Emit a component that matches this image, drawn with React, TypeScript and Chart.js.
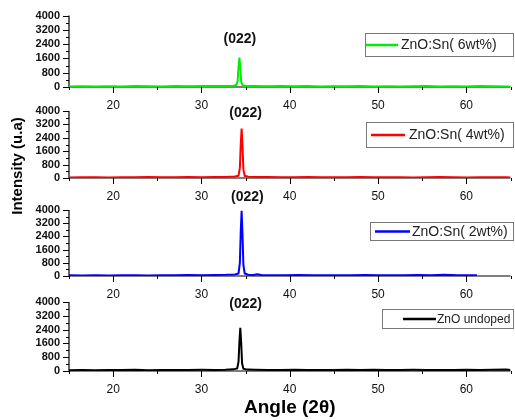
import React, { useEffect, useRef } from 'react';
import { Chart, registerables } from 'chart.js';

Chart.register(...registerables);

// ---------- data ----------
const X_TICKS = [20, 30, 40, 50, 60];
const X_MINOR = [15, 25, 35, 45, 55, 65];
const Y_TICKS = [0, 800, 1600, 2400, 3200, 4000];
const Y_MINOR = [400, 1200, 2000, 2800, 3600];
const PEAK_LABEL = '(022)';
const X_TITLE = 'Angle (2θ)';
const Y_TITLE = 'Intensity (u.a)';
const SERIES_LABELS = ['ZnO:Sn( 6wt%)', 'ZnO:Sn( 4wt%)', 'ZnO:Sn( 2wt%)', 'ZnO undoped'];

const SN6_X = [15, 16.5, 18, 19.5, 21, 22.5, 24, 25.5, 27, 28.5, 30, 31.5, 32.6, 33.6, 33.95, 34.1, 34.2, 34.3, 34.4, 34.5, 34.65, 35.1, 36, 37.5, 39, 40.5, 42, 43.5, 45, 46.5, 48, 49.5, 51, 52.5, 54, 55.5, 57, 58.5, 60, 61.5, 63, 64.5, 65];
const SN6_Y = [25, 40, 30, 45, 35, 50, 40, 35, 55, 45, 50, 60, 55, 70, 110, 350, 1150, 1650, 1100, 300, 90, 60, 50, 45, 55, 40, 50, 35, 45, 40, 55, 35, 45, 30, 40, 50, 35, 45, 30, 55, 40, 35, 30];

const SN4_X = [15, 16.5, 18, 19.5, 21, 22.5, 24, 25.5, 27, 28.5, 30, 31.5, 32.8, 33.8, 34.2, 34.35, 34.45, 34.55, 34.65, 34.75, 34.9, 35.3, 36.2, 37.5, 39, 40.5, 42, 43.5, 45, 46.5, 48, 49.5, 51, 52.5, 54, 55.5, 57, 58.5, 60, 61.5, 63, 64.5, 65];
const SN4_Y = [35, 45, 40, 30, 50, 40, 55, 45, 40, 60, 50, 55, 65, 85, 140, 600, 2000, 2950, 1900, 500, 130, 80, 60, 55, 45, 50, 60, 40, 50, 45, 55, 40, 45, 50, 35, 45, 55, 40, 35, 50, 45, 40, 30];

const SN2_X = [15, 16.5, 18, 19.5, 21, 22.5, 24, 25.5, 27, 28.5, 30, 31.5, 32.8, 33.8, 34.2, 34.35, 34.45, 34.55, 34.65, 34.75, 34.9, 35.3, 35.9, 36.3, 36.8, 38, 39.5, 41, 42.5, 44, 45.5, 47, 48.5, 50, 51.5, 53, 54.5, 56, 57.5, 59, 60.2, 61.2];
const SN2_Y = [40, 30, 45, 35, 50, 40, 35, 50, 45, 55, 45, 60, 70, 95, 160, 800, 2700, 3950, 2500, 650, 150, 80, 60, 110, 55, 50, 45, 55, 40, 50, 45, 40, 55, 45, 50, 40, 60, 45, 70, 50, 40, 45];

const UNDOPED_X = [15, 16.5, 18, 19.5, 21, 22.5, 24, 25.5, 27, 28.5, 30, 31.5, 32.7, 33.6, 34.05, 34.2, 34.3, 34.4, 34.5, 34.6, 34.75, 35.2, 36.1, 37.5, 39, 40.5, 42, 43.5, 45, 46.5, 48, 49.5, 51, 52.5, 54, 55.5, 57, 58.5, 60, 61.5, 63, 64.5, 65];
const UNDOPED_Y = [50, 65, 45, 60, 55, 70, 50, 65, 55, 60, 70, 65, 75, 95, 150, 550, 1700, 2500, 1650, 450, 130, 80, 70, 65, 55, 70, 60, 65, 55, 75, 60, 70, 55, 65, 70, 60, 55, 65, 75, 60, 70, 85, 60];

// ---------- layout / style ----------
const W = 515;
const H = 420;
const FONT = '"Liberation Sans", Arial, Helvetica, sans-serif';
const LEFT = 69;
const RIGHT_PAD = 4.5;

type Panel = {
  xs: number[];
  ys: number[];
  label: string;
  color: string;
  top: number;
  bottom: number;
  peakX: number;
  peakY: number;
  legend: { l: number; t: number; r: number; b: number; l1: number; l2: number; tx: number; fs: number };
};

const PANELS: Panel[] = [
  { xs: SN6_X, ys: SN6_Y, label: SERIES_LABELS[0], color: '#00ee00', top: 13, bottom: 87, peakX: 34.35, peakY: 39,
    legend: { l: 365, t: 33, r: 513, b: 56, l1: 366, l2: 398, tx: 401, fs: 14 } },
  { xs: SN4_X, ys: SN4_Y, label: SERIES_LABELS[1], color: '#ff0000', top: 111, bottom: 178, peakX: 35.0, peakY: 113,
    legend: { l: 366, t: 122, r: 513, b: 147, l1: 371, l2: 405, tx: 409, fs: 14 } },
  { xs: SN2_X, ys: SN2_Y, label: SERIES_LABELS[2], color: '#0000ff', top: 210, bottom: 276, peakX: 35.2, peakY: 197.5,
    legend: { l: 370, t: 222, r: 513, b: 240, l1: 375, l2: 410, tx: 412, fs: 14 } },
  { xs: UNDOPED_X, ys: UNDOPED_Y, label: SERIES_LABELS[3], color: '#000000', top: 302, bottom: 371, peakX: 35.0, peakY: 304,
    legend: { l: 382, t: 309, r: 513, b: 328, l1: 403, l2: 436, tx: 437, fs: 12 } },
];

function makePlugin(p: Panel, idx: number) {
  return {
    id: 'decor' + idx,
    beforeDatasetsDraw(chart: any) {
      const ctx = chart.ctx;
      const xs = chart.scales.x;
      const ys = chart.scales.y;
      const a = chart.chartArea;
      ctx.save();
      ctx.strokeStyle = '#000';
      ctx.lineWidth = 1.2;
      ctx.beginPath();
      ctx.moveTo(a.left, a.bottom);
      ctx.lineTo(a.right, a.bottom);
      ctx.moveTo(a.left, ys.getPixelForValue(Y_TICKS[Y_TICKS.length - 1]));
      ctx.lineTo(a.left, a.bottom);
      ctx.stroke();
      ctx.lineWidth = 1;
      ctx.beginPath();
      X_TICKS.forEach((v) => {
        const px = Math.round(xs.getPixelForValue(v)) + 0.5;
        ctx.moveTo(px, a.bottom);
        ctx.lineTo(px, a.bottom + 6);
      });
      X_MINOR.forEach((v) => {
        const px = Math.round(xs.getPixelForValue(v)) + 0.5;
        ctx.moveTo(px, a.bottom);
        ctx.lineTo(px, a.bottom + 3);
      });
      Y_TICKS.forEach((v) => {
        const py = Math.round(ys.getPixelForValue(v)) + 0.5;
        ctx.moveTo(a.left - 6, py);
        ctx.lineTo(a.left, py);
      });
      Y_MINOR.forEach((v) => {
        const py = Math.round(ys.getPixelForValue(v)) + 0.5;
        ctx.moveTo(a.left - 3, py);
        ctx.lineTo(a.left, py);
      });
      ctx.stroke();
      ctx.restore();
    },
    afterDraw(chart: any) {
      const ctx = chart.ctx;
      const xs = chart.scales.x;
      ctx.save();
      // peak label
      ctx.fillStyle = '#111';
      ctx.font = `bold 14px ${FONT}`;
      ctx.textAlign = 'center';
      ctx.textBaseline = 'middle';
      ctx.fillText(PEAK_LABEL, xs.getPixelForValue(p.peakX), p.peakY);
      // legend box
      const L = p.legend;
      ctx.strokeStyle = '#777';
      ctx.lineWidth = 1;
      ctx.strokeRect(L.l + 0.5, L.t + 0.5, L.r - L.l, L.b - L.t);
      const cy = (L.t + L.b) / 2 + 0.5;
      ctx.strokeStyle = p.color;
      ctx.lineWidth = 2.5;
      ctx.beginPath();
      ctx.moveTo(L.l1, cy);
      ctx.lineTo(L.l2, cy);
      ctx.stroke();
      ctx.fillStyle = '#222';
      ctx.font = `${L.fs}px ${FONT}`;
      ctx.textAlign = 'left';
      ctx.textBaseline = 'middle';
      ctx.fillText(p.label, L.tx, cy + 0.5);
      // y title (once)
      if (idx === 0) {
        ctx.translate(22, 166);
        ctx.rotate(-Math.PI / 2);
        ctx.fillStyle = '#000';
        ctx.font = `bold 15px ${FONT}`;
        ctx.textAlign = 'center';
        ctx.textBaseline = 'alphabetic';
        ctx.fillText(Y_TITLE, 0, 0);
      }
      ctx.restore();
    },
  };
}

function PanelChart({ p, idx }: { p: Panel; idx: number }) {
  const ref = useRef<HTMLCanvasElement>(null);
  useEffect(() => {
    const isLast = idx === PANELS.length - 1;
    const xh = isLast ? H - p.bottom : 26;
    const chart = new Chart(ref.current as HTMLCanvasElement, {
      type: 'line',
      data: {
        datasets: [
          {
            label: p.label,
            data: p.xs.map((x, i) => ({ x, y: p.ys[i] })),
            borderColor: p.color,
            backgroundColor: p.color,
            borderWidth: 2,
            pointRadius: 0,
            tension: 0,
            fill: false,
          },
        ],
      },
      options: {
        animation: false,
        responsive: false,
        maintainAspectRatio: false,
        devicePixelRatio: 1,
        events: [],
        layout: { padding: { top: p.top, bottom: H - p.bottom - xh, left: 0, right: RIGHT_PAD } },
        plugins: { legend: { display: false }, tooltip: { enabled: false }, title: { display: false } },
        scales: {
          x: {
            type: 'linear',
            min: 15,
            max: 65,
            grid: { display: false, drawTicks: false },
            border: { display: false },
            afterBuildTicks: (s: any) => {
              s.ticks = X_TICKS.map((v) => ({ value: v }));
            },
            afterFit: (s: any) => {
              s.height = xh;
            },
            ticks: {
              padding: 11,
              autoSkip: false,
              maxRotation: 0,
              color: '#111',
              font: { family: FONT, size: 12 },
              callback: (v: any) => String(v),
            },
            title: {
              display: isLast,
              text: X_TITLE,
              color: '#000',
              font: { family: FONT, size: 19, weight: 'bold' },
              padding: { top: 0, bottom: 1 },
            },
          },
          y: {
            type: 'linear',
            min: 0,
            max: 4000,
            grid: { display: false, drawTicks: false },
            border: { display: false },
            afterBuildTicks: (s: any) => {
              s.ticks = Y_TICKS.map((v) => ({ value: v }));
            },
            afterFit: (s: any) => {
              s.width = LEFT;
            },
            ticks: {
              padding: 9,
              autoSkip: false,
              color: '#111',
              font: { family: FONT, size: 11, weight: 'bold' },
              callback: (v: any) => String(v),
            },
          },
        },
      } as any,
      plugins: [makePlugin(p, idx)],
    });
    return () => chart.destroy();
  }, []);
  return (
    <canvas
      ref={ref}
      width={W}
      height={H}
      style={{ position: 'absolute', left: 0, top: 0, width: W, height: H }}
    />
  );
}

export default function App() {
  return (
    <div style={{ position: 'absolute', left: 0, top: 0, width: W, height: H, background: '#fff', overflow: 'hidden' }}>
      {PANELS.map((p, i) => (
        <PanelChart key={i} p={p} idx={i} />
      ))}
    </div>
  );
}
